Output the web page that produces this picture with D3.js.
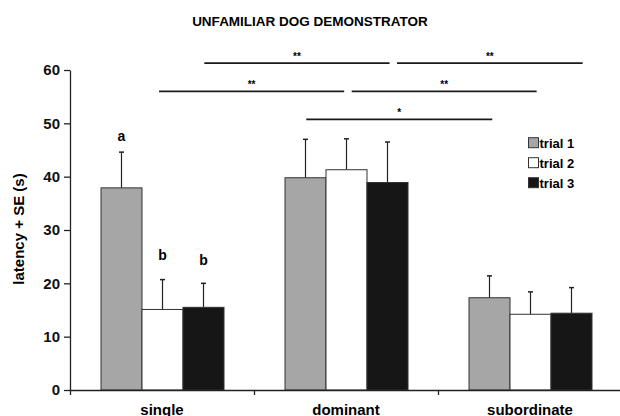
<!DOCTYPE html>
<html>
<head>
<meta charset="utf-8">
<script src="https://d3js.org/d3.v7.min.js"></script>
<style>
  body { margin: 0; background: #fff; }
  text { font-family: "Liberation Sans", Arial, sans-serif; font-weight: bold; }
</style>
</head>
<body>
<div id="my_dataviz"></div>
<script>

// data
var groups = ["single", "dominant", "subordinate"];
var trials = ["trial 1", "trial 2", "trial 3"];
var means  = [[37.9, 15.1, 15.5], [39.8, 41.3, 38.9], [17.3, 14.2, 14.4]];
var errors = [[6.7, 5.6, 4.5], [7.2, 5.8, 7.6], [4.1, 4.2, 4.8]];
var yTicks = [0, 10, 20, 30, 40, 50, 60];

// letters above single bars: [group, trial, text, value]
var letters = [[0, 0, "a", 47.7], [0, 1, "b", 25.3], [0, 2, "b", 24.3]];

// significance brackets: [start, end (in group units), value, label]
var brackets = [
  [0.73, 1.737, 61.3, "**"],
  [1.777, 2.786, 61.3, "**"],
  [0.484, 1.49, 56.0, "**"],
  [1.531, 2.536, 56.0, "**"],
  [1.284, 2.295, 50.75, "*"]
];

var margin = {top: 70, right: 0, bottom: 26, left: 70},
    width = 552,
    height = 416 - margin.top - margin.bottom;

var colors = ["#a6a6a6", "#ffffff", "#161616"];

var svg = d3.select("#my_dataviz")
  .append("svg")
    .attr("width", 620)
    .attr("height", 416)
  .append("g")
    .attr("transform", "translate(" + margin.left + "," + margin.top + ")");

var x = d3.scaleBand()
  .domain(groups)
  .range([0, width])
  .paddingInner(0)
  .paddingOuter(0);

var xSub = d3.scaleBand()
  .domain(trials)
  .range([31, 154]);

var xLin = d3.scaleLinear().domain([0, 3]).range([0, width]);

var y = d3.scaleLinear()
  .domain([0, 60])
  .range([height, 0]);

// title
svg.append("text")
  .attr("x", 240)
  .attr("y", -44)
  .attr("text-anchor", "middle")
  .style("font-size", "13.5px")
  .text("UNFAMILIAR DOG DEMONSTRATOR");

// Y label
svg.append("text")
  .attr("transform", "translate(-46.5," + (height / 2 - 1) + ") rotate(-90)")
  .attr("text-anchor", "middle")
  .style("font-size", "15px")
  .text("latency + SE (s)");

// bars
var gGroups = svg.selectAll("g.grp")
  .data(groups)
  .enter()
  .append("g")
    .attr("class", "grp")
    .attr("transform", function(d) { return "translate(" + x(d) + ",0)"; });

gGroups.each(function(g, gi) {
  var sel = d3.select(this);
  var rows = trials.map(function(t, ti) { return {t: t, ti: ti, v: means[gi][ti], e: errors[gi][ti]}; });

  // error bars (upper only)
  sel.selectAll("line.err")
    .data(rows)
    .enter()
    .append("line")
      .attr("x1", function(d) { return xSub(d.t) + xSub.bandwidth() / 2; })
      .attr("x2", function(d) { return xSub(d.t) + xSub.bandwidth() / 2; })
      .attr("y1", function(d) { return y(d.v); })
      .attr("y2", function(d) { return y(d.v + d.e); })
      .style("stroke", "#222")
      .style("stroke-width", 1.2);
  sel.selectAll("line.cap")
    .data(rows)
    .enter()
    .append("line")
      .attr("x1", function(d) { return xSub(d.t) + xSub.bandwidth() / 2 - 2.5; })
      .attr("x2", function(d) { return xSub(d.t) + xSub.bandwidth() / 2 + 2.5; })
      .attr("y1", function(d) { return y(d.v + d.e); })
      .attr("y2", function(d) { return y(d.v + d.e); })
      .style("stroke", "#222")
      .style("stroke-width", 1.5);

  sel.selectAll("rect")
    .data(rows)
    .enter()
    .append("rect")
      .attr("x", function(d) { return xSub(d.t); })
      .attr("y", function(d) { return y(d.v); })
      .attr("width", xSub.bandwidth())
      .attr("height", function(d) { return height - y(d.v); })
      .style("fill", function(d) { return colors[d.ti]; })
      .style("stroke", "#333")
      .style("stroke-width", 1);
});

// letters
svg.selectAll("text.letter")
  .data(letters)
  .enter()
  .append("text")
    .attr("x", function(d) { return x(groups[d[0]]) + xSub(trials[d[1]]) + xSub.bandwidth() / 2; })
    .attr("y", function(d) { return y(d[3]) + 5; })
    .attr("text-anchor", "middle")
    .style("font-size", "14px")
    .text(function(d) { return d[2]; });

// brackets
svg.selectAll("line.br")
  .data(brackets)
  .enter()
  .append("line")
    .attr("x1", function(d) { return xLin(d[0]); })
    .attr("x2", function(d) { return xLin(d[1]); })
    .attr("y1", function(d) { return y(d[2]); })
    .attr("y2", function(d) { return y(d[2]); })
    .style("stroke", "#1a1a1a")
    .style("stroke-width", 1.8);
svg.selectAll("text.br")
  .data(brackets)
  .enter()
  .append("text")
    .attr("x", function(d) { return xLin((d[0] + d[1]) / 2); })
    .attr("y", function(d) { return y(d[2]) - 3; })
    .attr("text-anchor", "middle")
    .style("font-size", "10px")
    .text(function(d) { return d[3]; });

// Y axis
var yAxis = svg.append("g")
  .call(d3.axisLeft(y).tickValues(yTicks).tickSize(6).tickSizeOuter(0));
yAxis.select(".domain").style("stroke", "#222").style("stroke-width", 1.3);
yAxis.selectAll(".tick line").style("stroke", "#222").style("stroke-width", 1.3);
yAxis.selectAll(".tick text")
  .attr("x", -10)
  .style("font-size", "15px")
  .style("font-family", "Liberation Sans, Arial, sans-serif")
  .style("font-weight", "bold")
  .style("fill", "#111");

// X axis
var xAxis = svg.append("g")
  .attr("transform", "translate(0," + height + ")")
  .call(d3.axisBottom(xLin).tickValues([0, 1, 2]).tickSize(5).tickSizeOuter(0).tickFormat(""));
xAxis.select(".domain").style("stroke", "#222").style("stroke-width", 1.3);
xAxis.selectAll(".tick line").style("stroke", "#222").style("stroke-width", 1.3);

svg.selectAll("text.xlab")
  .data(groups)
  .enter()
  .append("text")
    .attr("x", function(d) { return x(d) + x.bandwidth() / 2; })
    .attr("y", height + 24.5)
    .attr("text-anchor", "middle")
    .style("font-size", "15px")
    .text(function(d) { return d; });

// legend
var size = 10;
svg.selectAll("rect.leg")
  .data(trials)
  .enter()
  .append("rect")
    .attr("x", 458.5)
    .attr("y", function(d, i) { return 67.7 + i * 20; })
    .attr("width", size)
    .attr("height", size)
    .style("fill", function(d, i) { return colors[i]; })
    .style("stroke", "#333")
    .style("stroke-width", 1);
svg.selectAll("text.leg")
  .data(trials)
  .enter()
  .append("text")
    .attr("x", 469.5)
    .attr("y", function(d, i) { return 77.5 + i * 20; })
    .style("font-size", "13px")
    .text(function(d) { return d; });

</script>
</body>
</html>
